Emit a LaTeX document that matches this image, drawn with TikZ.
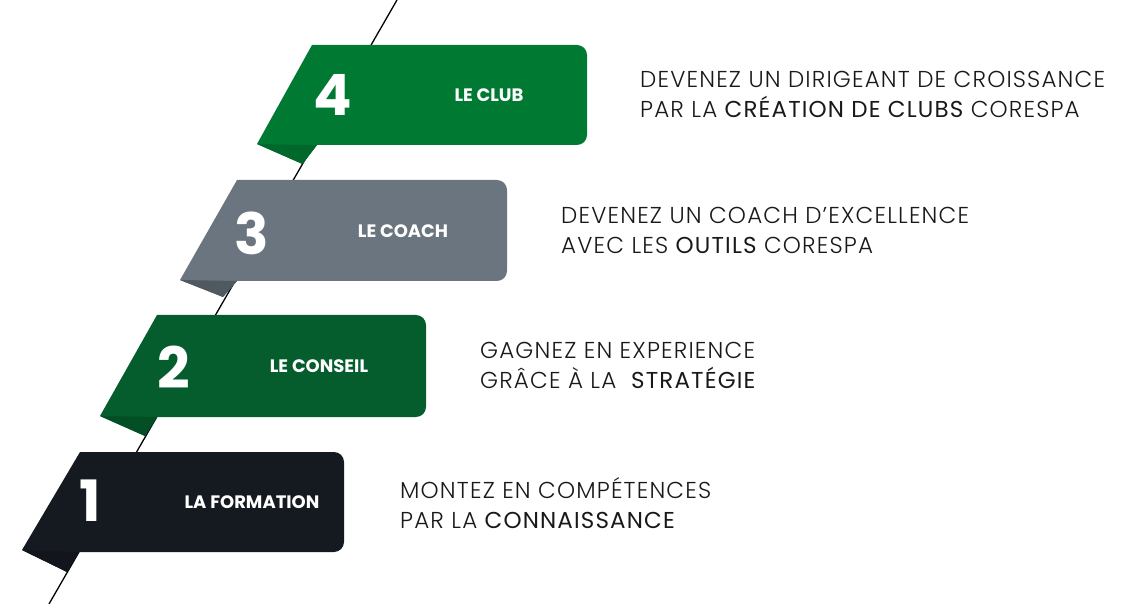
\documentclass[tikz,border=0pt]{standalone}
\usepackage{fontspec}
\setmainfont{Poppins}
\newfontfamily\lightfont[LetterSpace=5]{Poppins Light}
\newfontfamily\medfont[LetterSpace=5]{Poppins}
\definecolor{gclub}{RGB}{0,122,51}
\definecolor{gcoach}{RGB}{107,117,128}
\definecolor{gconseil}{RGB}{5,92,45}
\definecolor{gform}{RGB}{21,26,33}
\definecolor{txt}{RGB}{25,25,25}
\tikzset{
  num/.style={text=white,font=\fontsize{57}{57}\selectfont\bfseries,inner sep=0pt},
  lbl/.style={text=white,font=\fontsize{18}{18}\selectfont\bfseries,inner sep=0pt},
  desc/.style={text=txt,font=\fontsize{23}{24}\lightfont,inner sep=0pt,anchor=base west},
  axisline/.style={draw=black,line width=1.3pt},
}
\newcommand\emw[1]{{\medfont\fontsize{23}{24}\selectfont #1}}
\begin{document}
\begin{tikzpicture}[x=1pt,y=-1pt]
\useasboundingbox (0,0) rectangle (1144,604);
% diagonal line
\coordinate (ltop) at (397,0);
\coordinate (lbot) at (49,604);
\draw[axisline] (ltop) -- (lbot);
% block 4
\fill[gclub,rounded corners=10pt] (340,45) rectangle (587,145);
\fill[gclub] (312,45) -- (350,45) -- (350,145) -- (317,145) -- (302.5,164) -- (257,144) -- cycle;
\fill[gclub!85!black] (317,145) -- (302.5,164) -- (257,144) -- cycle;
% block 3
\fill[gcoach,rounded corners=10pt] (265,180) rectangle (507,281);
\fill[gcoach] (237,180) -- (275,180) -- (275,281) -- (237,281) -- (223,297) -- (180,280) -- cycle;
\fill[gcoach!75!black] (237,281) -- (223,297) -- (180,280) -- cycle;
% block 2
\fill[gconseil,rounded corners=10pt] (185,315) rectangle (426,417);
\fill[gconseil] (157,315) -- (195,315) -- (195,417) -- (157,417) -- (145,436) -- (100,416) -- cycle;
\fill[gconseil!85!black] (157,417) -- (145,436) -- (100,416) -- cycle;
% block 1
\fill[gform,rounded corners=10pt] (108,452) rectangle (344,552);
\fill[gform] (80,452) -- (118,452) -- (118,552) -- (79,552) -- (67,572) -- (22,550) -- cycle;
\fill[gform!85!black] (79,552) -- (67,572) -- (22,550) -- cycle;
% numbers and labels
\node[num] (n4) at (333,95) {4};
\node[lbl] (l4) at (489,95) {LE CLUB};
\node[num] (n3) at (252,233) {3};
\node[lbl] (l3) at (403,231) {LE COACH};
\node[num] (n2) at (174,367) {2};
\node[lbl] (l2) at (319,366) {LE CONSEIL};
\node[num] (n1) at (90,501) {1};
\node[lbl] (l1) at (252,502) {LA FORMATION};
% descriptions
\node[desc] (d4a) at (640,88) {DEVENEZ UN DIRIGEANT DE CROISSANCE};
\node[desc] (d4b) at (640,118) {PAR LA \emw{CRÉATION DE CLUBS} CORESPA};
\node[desc] (d3a) at (561,224) {DEVENEZ UN COACH D’EXCELLENCE};
\node[desc] (d3b) at (561,254) {AVEC LES \emw{OUTILS} CORESPA};
\node[desc] (d2a) at (480,358) {GAGNEZ EN EXPERIENCE};
\node[desc] (d2b) at (480,388) {GRÂCE À LA \ \emw{STRATÉGIE}};
\node[desc] (d1a) at (400,498) {MONTEZ EN COMPÉTENCES};
\node[desc] (d1b) at (400,528) {PAR LA \emw{CONNAISSANCE}};
\end{tikzpicture}
\end{document}
